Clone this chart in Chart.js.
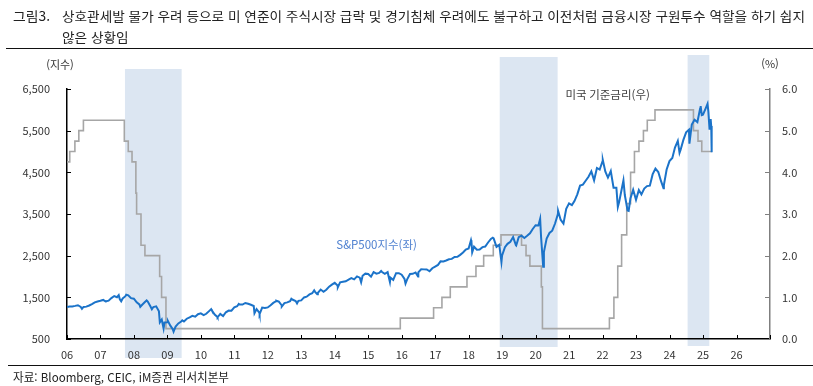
<!DOCTYPE html>
<html lang="ko">
<head>
<meta charset="utf-8">
<script src="https://cdn.jsdelivr.net/npm/chart.js@4.4.1/dist/chart.umd.min.js"></script>
<style>
  html, body { margin: 0; padding: 0; background: #fff; }
  body { width: 813px; height: 386px; position: relative; overflow: hidden;
         font-family: 'Noto Sans CJK KR', 'Noto Sans', sans-serif; color: #222; }
  #wrap { position: absolute; left: 0; top: 0; width: 813px; height: 386px; }
  .txt { position: absolute; white-space: nowrap; transform-origin: 0 50%; line-height: 1; }
  .rule { position: absolute; height: 0; border-top: 1.5px solid #111; }
</style>
</head>
<body>
<div id="wrap"><canvas id="chart"></canvas></div>
<div class="txt" id="fig" style="left:13px; top:9px; font-size:13px" data-w="37">그림3.</div>
<div class="txt" id="t1" style="left:62px; top:9px; font-size:13px" data-w="743">상호관세발 물가 우려 등으로 미 연준이 주식시장 급락 및 경기침체 우려에도 불구하고 이전처럼 금융시장 구원투수 역할을 하기 쉽지</div>
<div class="txt" id="t2" style="left:62px; top:30px; font-size:13px">않은 상황임</div>
<div class="rule" style="left:6px; right:0; top:48px"></div>
<div class="rule" style="left:8px; right:0; top:365px"></div>
<div class="txt" id="src" style="left:13px; top:371px; font-size:12px" data-w="216">자료: Bloomberg, CEIC, iM증권 리서치본부</div>
<script>
// x axis labels (years 2006 ~ 2026)
const yearLabels = ['06','07','08','09','10','11','12','13','14','15','16','17','18','19','20','21','22','23','24','25','26'];

// S&P500 month-end closes, Jan 2006 onward
const spxFirstYear = 2006;
const spxMonthly = [
  1280, 1281, 1295, 1311, 1270, 1270, 1277, 1304, 1336, 1378, 1401, 1418,
  1438, 1407, 1421, 1482, 1531, 1503, 1455, 1474, 1527, 1549, 1481, 1468,
  1379, 1331, 1323, 1386, 1400, 1280, 1267, 1283, 1166, 969, 896, 903,
  826, 735, 798, 873, 919, 919, 987, 1021, 1057, 1036, 1096, 1115,
  1074, 1105, 1169, 1187, 1089, 1031, 1102, 1049, 1141, 1183, 1181, 1258,
  1286, 1327, 1326, 1364, 1345, 1321, 1292, 1219, 1131, 1253, 1247, 1258,
  1312, 1366, 1408, 1398, 1310, 1362, 1379, 1407, 1441, 1412, 1416, 1426,
  1498, 1515, 1569, 1598, 1631, 1606, 1686, 1633, 1682, 1757, 1806, 1848,
  1783, 1859, 1872, 1884, 1924, 1960, 1931, 2003, 1972, 2018, 2068, 2059,
  1995, 2105, 2068, 2086, 2107, 2063, 2104, 1972, 1920, 2079, 2080, 2044,
  1940, 1932, 2060, 2065, 2097, 2099, 2174, 2171, 2168, 2126, 2199, 2239,
  2279, 2364, 2363, 2384, 2412, 2423, 2470, 2472, 2519, 2575, 2648, 2674,
  2824, 2714, 2641, 2648, 2705, 2718, 2816, 2902, 2914, 2712, 2760, 2507,
  2704, 2784, 2834, 2946, 2752, 2942, 2980, 2926, 2977, 3038, 3141, 3231,
  3226, 2954, 2585, 2912, 3044, 3100, 3271, 3500, 3363, 3270, 3622, 3756,
  3714, 3811, 3973, 4181, 4204, 4298, 4395, 4523, 4308, 4605, 4567, 4766,
  4516, 4374, 4530, 4132, 4132, 3785, 4130, 3955, 3586, 3872, 4080, 3840,
  4077, 3970, 4109, 4169, 4180, 4450, 4589, 4508, 4288, 4194, 4568, 4770,
  4846, 5096, 5254, 5036, 5278, 5460, 5522, 5648, 5762, 5705, 6032, 5882,
  6041, 5955, 5612
];

// S&P500 intra-month highs / lows (daily closes)
const spxDailyDates = [
  '2006-01-03','2006-06-13','2007-02-27','2007-07-19','2007-08-15','2007-10-09',
  '2008-03-10','2008-05-19','2008-07-15','2008-10-10','2008-11-20','2009-01-06',
  '2009-03-09','2009-06-12','2010-04-23','2010-07-02','2011-02-18','2011-08-08',
  '2011-10-03','2012-04-02','2012-06-01','2012-09-14','2012-11-15','2013-05-21',
  '2013-06-24','2014-02-03','2014-10-15','2015-05-21','2015-08-25','2016-02-11',
  '2016-06-27','2018-01-26','2018-02-08','2018-09-20','2018-12-24','2019-06-03',
  '2020-02-19','2020-03-23','2020-09-02','2022-01-03','2022-06-16','2022-08-16',
  '2022-10-12','2023-10-27','2024-04-19','2024-08-05','2024-12-06','2024-12-18',
  '2025-02-19','2025-03-13','2025-03-25','2025-04-03','2025-04-04','2025-04-08'
];
const spxDailyValues = [
  1269, 1223, 1399, 1553, 1407, 1565,
  1273, 1426, 1214, 899, 752, 935,
  677, 946, 1217, 1022, 1343, 1119,
  1099, 1419, 1278, 1466, 1353, 1669,
  1573, 1742, 1862, 2131, 1868, 1829,
  2001, 2873, 2581, 2931, 2351, 2744,
  3386, 2237, 3580, 4797, 3667, 4305,
  3577, 4117, 4967, 5186, 6090, 5872,
  6144, 5522, 5777, 5397, 5074, 4982
];

// Fed funds target (upper bound), change dates
const fedDates = [
  '2006-01-01','2006-01-31','2006-03-28','2006-05-10','2006-06-29',
  '2007-09-18','2007-10-31','2007-12-11','2008-01-22','2008-01-30',
  '2008-03-18','2008-04-30','2008-10-08','2008-10-29','2008-12-16',
  '2015-12-16','2016-12-14','2017-03-15','2017-06-14','2017-12-13',
  '2018-03-21','2018-06-13','2018-09-26','2018-12-19','2019-07-31',
  '2019-09-18','2019-10-30','2020-03-03','2020-03-15','2022-03-16',
  '2022-05-04','2022-06-15','2022-07-27','2022-09-21','2022-11-02',
  '2022-12-14','2023-02-01','2023-03-22','2023-05-03','2023-07-26',
  '2024-09-18','2024-11-07','2024-12-18','2025-04-08'
];
const fedRates = [
  4.25, 4.5, 4.75, 5.0, 5.25,
  4.75, 4.5, 4.25, 3.5, 3.0,
  2.25, 2.0, 1.5, 1.0, 0.25,
  0.5, 0.75, 1.0, 1.25, 1.5,
  1.75, 2.0, 2.25, 2.5, 2.25,
  2.0, 1.75, 1.25, 0.25, 0.5,
  1.0, 1.75, 2.5, 3.25, 4.0,
  4.5, 4.75, 5.0, 5.25, 5.5,
  5.0, 4.75, 4.5, 4.5
];

// shaded periods
const bandFrom = ['2007-09-25', '2018-12-05', '2024-07-16'];
const bandTo   = ['2009-06-05', '2020-08-28', '2025-03-10'];

function decYear(y, m, d) {
  const t = Date.UTC(y, m - 1, d), a = Date.UTC(y, 0, 1), b = Date.UTC(y + 1, 0, 1);
  return y + (t - a) / (b - a);
}
function toYear(s) {
  const p = s.split('-').map(Number);
  return decYear(p[0], p[1], p[2]);
}

let spxPoints = spxMonthly.map((v, i) => {
  const y = spxFirstYear + Math.floor(i / 12), m = i % 12 + 1;
  const last = new Date(Date.UTC(y, m, 0)).getUTCDate();
  return { x: decYear(y, m, last), y: v };
});
spxDailyDates.forEach((d, i) => spxPoints.push({ x: toYear(d), y: spxDailyValues[i] }));
spxPoints.sort((a, b) => a.x - b.x);

const fedPoints = fedDates.map((d, i) => ({ x: toYear(d), y: fedRates[i] }));

const FONT = "'Noto Sans CJK KR', 'Noto Sans', sans-serif";
const bandStyle = { color: '#DCE6F2', top: [20, 32, 34], bottom: [19, 8, 7] };

const bandsPlugin = {
  id: 'bands',
  beforeDraw(chart) {
    const { ctx, chartArea, scales } = chart;
    ctx.save();
    ctx.fillStyle = bandStyle.color;
    bandFrom.forEach((f, i) => {
      const x1 = scales.x.getPixelForValue(toYear(f));
      const x2 = scales.x.getPixelForValue(toYear(bandTo[i]));
      const y1 = chartArea.top - bandStyle.top[i];
      const y2 = chartArea.bottom + bandStyle.bottom[i];
      ctx.fillRect(x1, y1, x2 - x1, y2 - y1);
    });
    ctx.restore();
  }
};

// inward tick marks, axis units and series labels
const extrasPlugin = {
  id: 'extras',
  afterDraw(chart) {
    const { ctx, chartArea, scales } = chart;
    ctx.save();
    ctx.lineWidth = 1;
    ctx.strokeStyle = '#000';
    ctx.beginPath();
    scales.x.ticks.forEach(t => {
      const px = Math.round(scales.x.getPixelForValue(t.value)) + 0.5;
      ctx.moveTo(px, chartArea.bottom); ctx.lineTo(px, chartArea.bottom - 4);
    });
    scales.y.ticks.forEach(t => {
      const py = Math.round(scales.y.getPixelForValue(t.value)) + 0.5;
      ctx.moveTo(chartArea.left, py); ctx.lineTo(chartArea.left + 4, py);
    });
    ctx.stroke();
    ctx.strokeStyle = '#7F7F7F';
    ctx.beginPath();
    scales.y2.ticks.forEach(t => {
      const py = Math.round(scales.y2.getPixelForValue(t.value)) + 0.5;
      ctx.moveTo(chartArea.right, py); ctx.lineTo(chartArea.right - 5, py);
    });
    ctx.stroke();

    ctx.font = '11px ' + FONT;
    ctx.fillStyle = '#333';
    ctx.textAlign = 'center';
    ctx.textBaseline = 'middle';
    ctx.fillText('(지수)', chartArea.left - 7, chartArea.top - 24);
    ctx.fillText('(%)', chartArea.right, chartArea.top - 25);

    ctx.font = '11.5px ' + FONT;
    ctx.fillStyle = '#4F81D0';
    ctx.fillText('S&P500지수(좌)', scales.x.getPixelForValue(2015.25), scales.y.getPixelForValue(2756));
    ctx.fillStyle = '#404040';
    ctx.fillText('미국 기준금리(우)', scales.x.getPixelForValue(2022.15), scales.y2.getPixelForValue(5.86));
    ctx.restore();
  }
};

new Chart(document.getElementById('chart'), {
  type: 'line',
  data: {
    datasets: [{
      label: 'S&P500지수(좌)',
      data: spxPoints,
      yAxisID: 'y',
      borderColor: '#1B73C9',
      borderWidth: 2,
      pointRadius: 0,
      tension: 0
    }, {
      label: '미국 기준금리(우)',
      data: fedPoints,
      yAxisID: 'y2',
      stepped: true,
      borderColor: '#A6A6A6',
      borderWidth: 1.6,
      pointRadius: 0
    }]
  },
  options: {
    responsive: true,
    maintainAspectRatio: false,
    animation: false,
    layout: { padding: { top: 89, left: 0, right: 0, bottom: 21 } },
    plugins: { legend: { display: false }, tooltip: { enabled: false } },
    scales: {
      x: {
        type: 'linear',
        min: 2006,
        max: 2027,
        afterFit: s => { s.height = 26; },
        grid: { display: false, drawTicks: false },
        border: { color: '#000', width: 1.5 },
        ticks: {
          stepSize: 1,
          padding: 9,
          autoSkip: false,
          maxRotation: 0,
          color: '#333',
          font: { family: FONT, size: 11 },
          callback: v => yearLabels[v - 2006] || ''
        }
      },
      y: {
        position: 'left',
        min: 500,
        max: 6500,
        afterFit: s => { s.width = 67; },
        grid: { display: false, drawTicks: false },
        border: { color: '#000', width: 1.5 },
        ticks: {
          stepSize: 1000,
          padding: 17,
          color: '#333',
          font: { family: FONT, size: 11 },
          callback: v => v.toLocaleString('en-US')
        }
      },
      y2: {
        position: 'right',
        min: 0,
        max: 6,
        afterFit: s => { s.width = 43; },
        grid: { display: false, drawTicks: false },
        border: { color: '#7F7F7F', width: 1.5 },
        ticks: {
          stepSize: 1,
          padding: 12,
          color: '#333',
          font: { family: FONT, size: 11 },
          callback: v => v.toFixed(1)
        }
      }
    }
  },
  plugins: [bandsPlugin, extrasPlugin]
});

// fit header / source text to the reference widths
let titleScale = 1;
document.querySelectorAll('.txt[data-w]').forEach(el => {
  const s = Number(el.dataset.w) / el.getBoundingClientRect().width;
  el.style.transform = 'scaleX(' + s + ')';
  if (el.id === 't1') titleScale = s;
});
document.getElementById('t2').style.transform = 'scaleX(' + titleScale + ')';
</script>
</body>
</html>
